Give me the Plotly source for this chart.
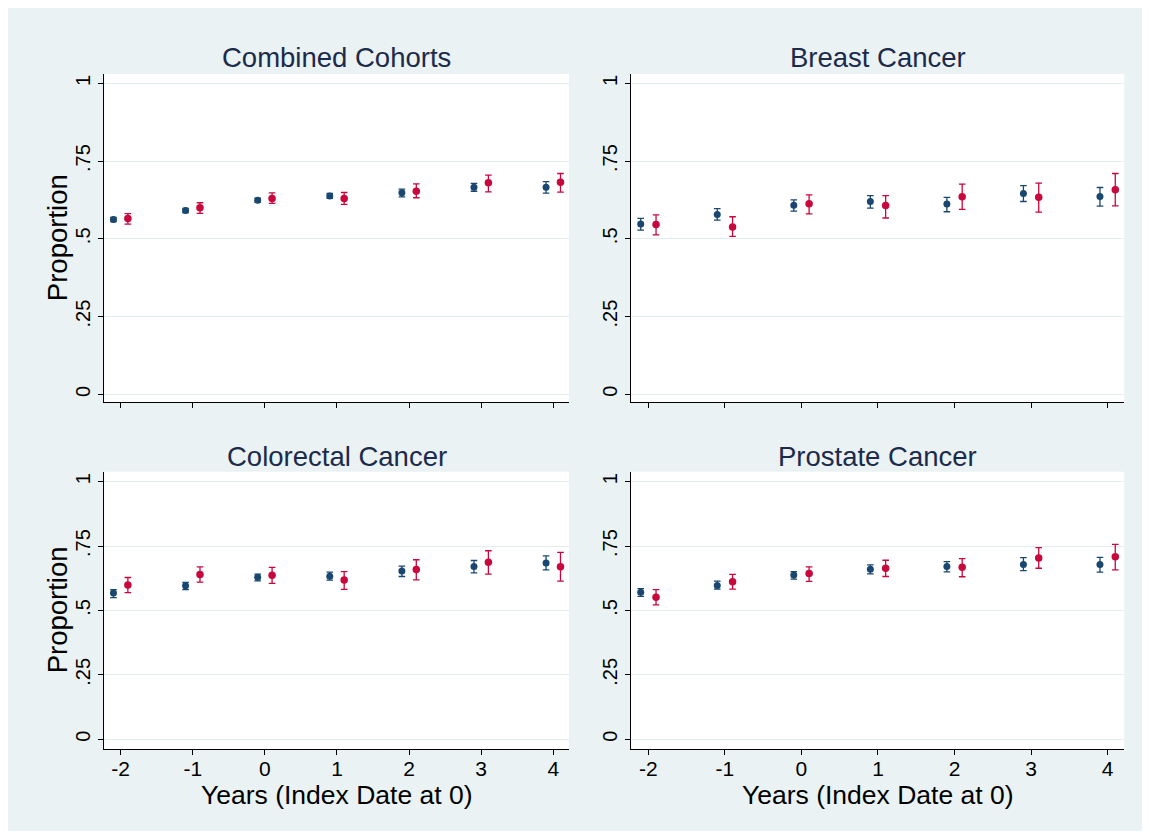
import plotly.graph_objects as go

# ---------------- data ----------------
years = [-2, -1, 0, 1, 2, 3, 4]
panel_titles = ["Combined Cohorts", "Breast Cancer", "Colorectal Cancer", "Prostate Cancer"]
ytick_vals = [0, 0.25, 0.5, 0.75, 1]
ytick_text = ["0", ".25", ".5", ".75", "1"]
xtick_text = ["-2", "-1", "0", "1", "2", "3", "4"]

# Combined Cohorts
comb_blue = [0.562, 0.591, 0.624, 0.638, 0.648, 0.666, 0.666]
comb_blue_lo = [0.555, 0.584, 0.617, 0.630, 0.635, 0.653, 0.647]
comb_blue_hi = [0.569, 0.598, 0.631, 0.646, 0.660, 0.678, 0.684]
comb_red = [0.565, 0.600, 0.630, 0.630, 0.653, 0.680, 0.682]
comb_red_lo = [0.547, 0.582, 0.614, 0.611, 0.632, 0.651, 0.650]
comb_red_hi = [0.581, 0.616, 0.648, 0.649, 0.677, 0.705, 0.710]

# Breast Cancer
breast_blue = [0.548, 0.578, 0.608, 0.620, 0.612, 0.646, 0.636]
breast_blue_lo = [0.528, 0.560, 0.589, 0.599, 0.587, 0.620, 0.605]
breast_blue_hi = [0.566, 0.597, 0.625, 0.639, 0.633, 0.671, 0.665]
breast_red = [0.546, 0.538, 0.613, 0.607, 0.635, 0.634, 0.658]
breast_red_lo = [0.513, 0.508, 0.580, 0.567, 0.595, 0.586, 0.606]
breast_red_hi = [0.577, 0.571, 0.641, 0.639, 0.676, 0.679, 0.710]

# Colorectal Cancer
crc_blue = [0.568, 0.596, 0.629, 0.633, 0.653, 0.671, 0.684]
crc_blue_lo = [0.550, 0.581, 0.615, 0.618, 0.632, 0.646, 0.658]
crc_blue_hi = [0.581, 0.609, 0.641, 0.649, 0.672, 0.694, 0.712]
crc_red = [0.599, 0.640, 0.637, 0.618, 0.659, 0.687, 0.670]
crc_red_lo = [0.569, 0.610, 0.605, 0.582, 0.619, 0.641, 0.614]
crc_red_hi = [0.628, 0.669, 0.667, 0.651, 0.697, 0.732, 0.726]

# Prostate Cancer
pros_blue = [0.571, 0.597, 0.638, 0.660, 0.671, 0.679, 0.679]
pros_blue_lo = [0.555, 0.583, 0.622, 0.642, 0.650, 0.655, 0.649]
pros_blue_hi = [0.585, 0.614, 0.651, 0.677, 0.690, 0.705, 0.706]
pros_red = [0.551, 0.612, 0.644, 0.664, 0.668, 0.704, 0.709]
pros_red_lo = [0.522, 0.583, 0.613, 0.632, 0.631, 0.664, 0.658]
pros_red_hi = [0.581, 0.640, 0.669, 0.695, 0.701, 0.744, 0.757]

panels = [
    (comb_blue, comb_blue_lo, comb_blue_hi, comb_red, comb_red_lo, comb_red_hi),
    (breast_blue, breast_blue_lo, breast_blue_hi, breast_red, breast_red_lo, breast_red_hi),
    (crc_blue, crc_blue_lo, crc_blue_hi, crc_red, crc_red_lo, crc_red_hi),
    (pros_blue, pros_blue_lo, pros_blue_hi, pros_red, pros_red_lo, pros_red_hi),
]

# ---------------- style / layout ----------------
W, H = 1134, 823          # figure sits at page offset (8, 8) from the body margin
OX, OY = 8, 8
BG = "#EAF2F3"
BLUE = "#1A476F"
RED = "#C8073C"
TITLE_C = "#1C2B4B"
GRID = "#E3ECEE"
FONT = "Liberation Sans, Arial, sans-serif"
DODGE = 0.1


def px(xp):
    return (xp - OX) / W


def py(yp):
    return 1 - (yp - OY) / H


# plot-area boxes in page pixels
xdom = [[px(104.3), px(569)], [px(631), px(1124.3)]]
ydom = [[py(402.3), py(74)], [py(749), py(471.7)]]
yranges = [[-0.0257, 1.030], [-0.0377, 1.0388]]
xrange_ = [-2.227, 4.218]
title_y = [py(57), py(456)]

fig = go.Figure()
layout = dict(
    width=W, height=H,
    paper_bgcolor=BG, plot_bgcolor="white",
    margin=dict(l=0, r=0, t=0, b=0),
    showlegend=False,
    font=dict(family=FONT, color="black"),
)
annotations = []

for i, (b, blo, bhi, r, rlo, rhi) in enumerate(panels):
    row, col = divmod(i, 2)
    n = i + 1
    xa = "x" if n == 1 else f"x{n}"
    ya = "y" if n == 1 else f"y{n}"
    xb = [yv - DODGE for yv in years]
    xr = [yv + DODGE for yv in years]
    fig.add_trace(go.Scatter(
        x=xb, y=b, mode="markers", xaxis=xa, yaxis=ya,
        marker=dict(color=BLUE, size=7),
        error_y=dict(type="data", symmetric=False,
                     array=[h - v for h, v in zip(bhi, b)],
                     arrayminus=[v - l for v, l in zip(b, blo)],
                     color=BLUE, thickness=1.3, width=3.3),
    ))
    fig.add_trace(go.Scatter(
        x=xr, y=r, mode="markers", xaxis=xa, yaxis=ya,
        marker=dict(color=RED, size=7.5),
        error_y=dict(type="data", symmetric=False,
                     array=[h - v for h, v in zip(rhi, r)],
                     arrayminus=[v - l for v, l in zip(r, rlo)],
                     color=RED, thickness=1.3, width=3.3),
    ))
    xkey = "xaxis" if n == 1 else f"xaxis{n}"
    ykey = "yaxis" if n == 1 else f"yaxis{n}"
    layout[xkey] = dict(
        domain=xdom[col], anchor=ya, range=xrange_,
        tickmode="array", tickvals=years, ticktext=xtick_text,
        showticklabels=(row == 1), ticks="outside", ticklen=5, tickwidth=1,
        tickcolor="black", showline=True, linecolor="black", linewidth=1,
        showgrid=False, zeroline=False, ticklabelstandoff=-4,
        tickfont=dict(size=21, color="black"),
    )
    layout[ykey] = dict(
        domain=ydom[row], anchor=xa, range=yranges[row],
        tickmode="array", tickvals=ytick_vals, ticktext=ytick_text,
        tickangle=-90, ticks="outside", ticklen=5, tickwidth=1,
        tickcolor="black", showline=True, linecolor="black", linewidth=1,
        showgrid=True, gridcolor=GRID, gridwidth=1, zeroline=False,
        tickfont=dict(size=20, color="black"),
    )
    xc = (xdom[col][0] + xdom[col][1]) / 2
    yc = (ydom[row][0] + ydom[row][1]) / 2
    annotations.append(dict(
        text=panel_titles[i], x=xc, y=title_y[row],
        xref="paper", yref="paper", xanchor="center", yanchor="middle",
        showarrow=False, font=dict(size=27.5, color=TITLE_C, family=FONT),
    ))
    if col == 0:
        annotations.append(dict(
            text="Proportion", x=px(57), y=yc, textangle=-90,
            xref="paper", yref="paper", xanchor="center", yanchor="middle",
            showarrow=False, font=dict(size=27.5, color="black", family=FONT),
        ))
    if row == 1:
        annotations.append(dict(
            text="Years (Index Date at 0)", x=xc, y=py(795),
            xref="paper", yref="paper", xanchor="center", yanchor="middle",
            showarrow=False, font=dict(size=26.5, color="black", family=FONT),
        ))

layout["annotations"] = annotations
fig.update_layout(**layout)
fig.write_html("out.html")
